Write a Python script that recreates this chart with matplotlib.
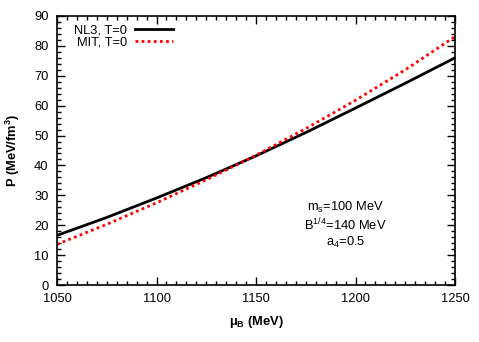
import numpy as np
import matplotlib
matplotlib.use("Agg")
import matplotlib.pyplot as plt
from matplotlib.ticker import MultipleLocator

plt.rcParams['font.family'] = ['Liberation Sans', 'DejaVu Sans']
plt.rcParams['mathtext.fontset'] = 'custom'
plt.rcParams['mathtext.rm'] = 'Liberation Sans'
plt.rcParams['mathtext.it'] = 'Liberation Sans'
plt.rcParams['mathtext.bf'] = 'Liberation Sans:bold'

FS = 9.3

# values
mu_b = [1050, 1075, 1100, 1125, 1150, 1175, 1200, 1225, 1250]
p_nl3 = [16.6, 22.6, 29.1, 35.9, 43.2, 51.0, 59.2, 67.5, 76.0]
p_mit = [13.6, 20.3, 27.5, 35.2, 43.4, 52.3, 61.8, 72.0, 83.1]

fig = plt.figure(figsize=(4.79, 3.42), dpi=100)
ax = fig.add_axes([57 / 479, 1 - 285 / 342, (455 - 57) / 479, (285 - 16) / 342])

ax.plot(mu_b, p_nl3, color='black', lw=2, label='NL3, T=0')
ax.plot(mu_b, p_mit, color='red', lw=2, linestyle=(0, (1, 1.2)), label='MIT, T=0')

ax.set_xlim(1050, 1250)
ax.set_ylim(0, 90)
ax.xaxis.set_major_locator(MultipleLocator(50))
ax.xaxis.set_minor_locator(MultipleLocator(5))
ax.yaxis.set_major_locator(MultipleLocator(10))
ax.yaxis.set_minor_locator(MultipleLocator(2))
ax.tick_params(which='both', direction='in', top=True, right=True, labelsize=FS)
ax.tick_params(which='major', length=6, width=1)
ax.tick_params(which='minor', length=3, width=1)
ax.tick_params(axis='x', pad=6)
ax.tick_params(axis='y', pad=6)
for s in ax.spines.values():
    s.set_linewidth(1.2)

ax.set_xlabel(r'$\mathbf{\mu_B}$ (MeV)', fontsize=FS, fontweight='bold', labelpad=6)
ax.set_ylabel(r'P (MeV/fm$\mathbf{^3}$)', fontsize=FS, fontweight='bold', labelpad=9)

ax.legend(loc='upper left', frameon=False, markerfirst=False, fontsize=FS,
          handlelength=2.95, handletextpad=0.6, labelspacing=0.0,
          borderaxespad=0.0, bbox_to_anchor=(0.03, 0.988))

ax.text(1195, 26.0, r'm$_\mathrm{s}$=100 MeV', ha='center', va='center', fontsize=FS)
ax.text(1195, 20.0, r'B$^{1/4}$=140 MeV', ha='center', va='center', fontsize=FS)
ax.text(1195, 14.3, r'a$_4$=0.5', ha='center', va='center', fontsize=FS)

fig.savefig('out.png', dpi=100)
